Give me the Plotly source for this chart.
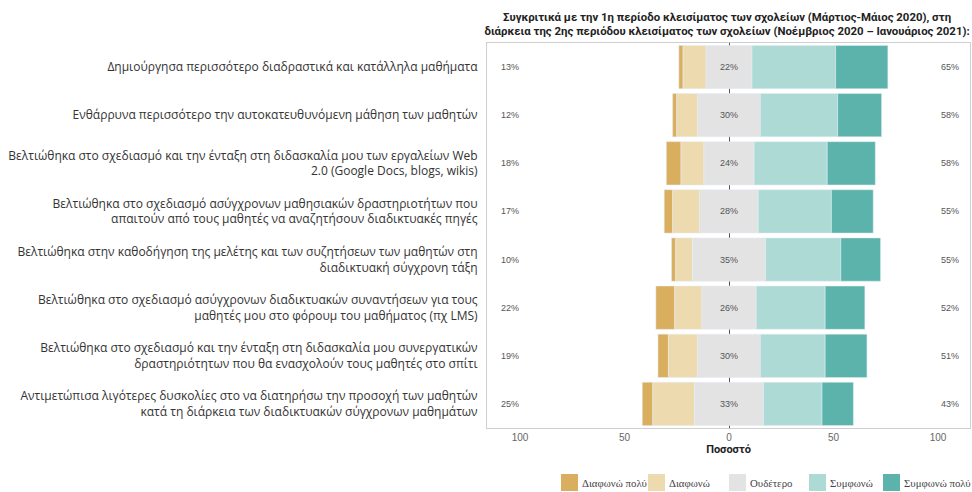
import plotly.graph_objects as go

statements = [
    "Δημιούργησα περισσότερο διαδραστικά και κατάλληλα μαθήματα",
    "Ενθάρρυνα περισσότερο την αυτοκατευθυνόμενη μάθηση των μαθητών",
    "Βελτιώθηκα στο σχεδιασμό και την ένταξη στη διδασκαλία μου των εργαλείων Web<br>2.0 (Google Docs, blogs, wikis)",
    "Βελτιώθηκα στο σχεδιασμό ασύγχρονων μαθησιακών δραστηριοτήτων που<br>απαιτούν από τους μαθητές να αναζητήσουν διαδικτυακές πηγές",
    "Βελτιώθηκα στην καθοδήγηση της μελέτης και των συζητήσεων των μαθητών στη<br>διαδικτυακή σύγχρονη τάξη",
    "Βελτιώθηκα στο σχεδιασμό ασύγχρονων διαδικτυακών συναντήσεων για τους<br>μαθητές μου στο φόρουμ του μαθήματος (πχ LMS)",
    "Βελτιώθηκα στο σχεδιασμό και την ένταξη στη διδασκαλία μου συνεργατικών<br>δραστηριότητων που θα ενασχολούν τους μαθητές στο σπίτι",
    "Αντιμετώπισα λιγότερες δυσκολίες στο να διατηρήσω την προσοχή των μαθητών<br>κατά τη διάρκεια των διαδικτυακών σύγχρονων μαθημάτων",
]

# percentages per answer
strongly_disagree = [2, 2, 7, 4, 2, 9, 5, 5]
disagree = [11, 10, 11, 13, 8, 13, 14, 20]
neutral = [22, 30, 24, 28, 35, 26, 30, 33]
agree = [40, 37, 35, 35, 36, 33, 31, 28]
strongly_agree = [25, 21, 23, 20, 19, 19, 20, 15]

legend_names = ["Διαφωνώ πολύ", "Διαφωνώ", "Ουδέτερο", "Συμφωνώ", "Συμφωνώ πολύ"]
colors = ["#D9AE5E", "#EDDAAF", "#E3E3E3", "#AEDAD6", "#5CB3AB"]

tick_vals = [-100, -50, 0, 50, 100]
tick_text = ["100", "50", "0", "50", "100"]

# plot area in pixels (used for the hand-made legend below)
W, H = 972, 492
L, R, T, B = 487, 2, 43, 64
pw, ph = W - L - R, H - T - B

half = [n / 2 for n in neutral]
base_dis = [-h - d for h, d in zip(half, disagree)]
base_sdis = [b - s for b, s in zip(base_dis, strongly_disagree)]
base_sag = [h + a for h, a in zip(half, agree)]

fig = go.Figure()
fig.add_trace(go.Bar(y=statements, x=strongly_disagree, base=base_sdis, orientation="h",
                     name=legend_names[0], marker_color=colors[0]))
fig.add_trace(go.Bar(y=statements, x=disagree, base=base_dis, orientation="h",
                     name=legend_names[1], marker_color=colors[1]))
fig.add_trace(go.Bar(y=statements, x=neutral, base=[-h for h in half], orientation="h",
                     name=legend_names[2], marker_color=colors[2],
                     text=[f"{n}%" for n in neutral], textposition="inside",
                     insidetextanchor="middle", textangle=0,
                     textfont=dict(size=9, color="#555555", family="Arial")))
fig.add_trace(go.Bar(y=statements, x=agree, base=half, orientation="h",
                     name=legend_names[3], marker_color=colors[3]))
fig.add_trace(go.Bar(y=statements, x=strongly_agree, base=base_sag, orientation="h",
                     name=legend_names[4], marker_color=colors[4]))

for i in range(len(statements)):
    fig.add_annotation(x=-105, y=statements[i], text=f"{strongly_disagree[i] + disagree[i]}%",
                       showarrow=False, font=dict(size=9, color="#555555", family="Arial"))
    fig.add_annotation(x=105.5, y=statements[i], text=f"{agree[i] + strongly_agree[i]}%",
                       showarrow=False, font=dict(size=9, color="#555555", family="Arial"))

# legend: squares + labels along the bottom
legend_x = [561, 648, 729, 809, 883]
for name, col, lx in zip(legend_names, colors, legend_x):
    fig.add_shape(type="rect", xref="paper", yref="paper",
                  x0=(lx - L) / pw, x1=(lx + 17 - L) / pw,
                  y0=(H - B - 474) / ph, y1=(H - B - 491) / ph,
                  fillcolor=col, line_width=0)
    fig.add_annotation(xref="paper", yref="paper", x=(lx + 19 - L) / pw, y=(H - B - 483) / ph,
                       text=name, showarrow=False, xanchor="left", yanchor="middle",
                       font=dict(family="Liberation Serif", size=10.8, color="#444444"))

fig.update_layout(
    width=W, height=H,
    margin=dict(l=L, r=R, t=T, b=B),
    barmode="overlay", bargap=0.1,
    paper_bgcolor="white", plot_bgcolor="white",
    title=dict(text="Συγκριτικά με την 1η περίοδο κλεισίματος των σχολείων (Μάρτιος-Μάιος 2020), στη<br>"
                    "διάρκεια της 2ης περιόδου κλεισίματος των σχολείων (Νοέμβριος 2020 – Ιανουάριος 2021):",
               x=0.748, xanchor="center", y=0.958, yanchor="middle",
               font=dict(family="Roboto", size=11.4, color="#222222", weight="bold")),
    showlegend=False,
)
fig.update_xaxes(range=[-115.8, 115.3], tickvals=tick_vals, ticktext=tick_text, automargin=False,
                 tickfont=dict(family="Arial", size=10, color="#666666"),
                 showgrid=False, zeroline=True, zerolinecolor="#555555", zerolinewidth=1,
                 showline=True, linecolor="#cfcfcf", mirror=True,
                 title=dict(text="<b>Ποσοστό</b>", font=dict(family="Roboto", size=11, color="#222222"),
                            standoff=2))
fig.update_yaxes(autorange="reversed", showgrid=False, automargin=False,
                 showline=True, linecolor="#cfcfcf", mirror=True,
                 tickfont=dict(family="Open Sans", size=12, color="#333333"),
                 ticklabelstandoff=6)

fig.write_html("out.html", config={"displayModeBar": False},
               post_script="document.body.style.margin='0';")
